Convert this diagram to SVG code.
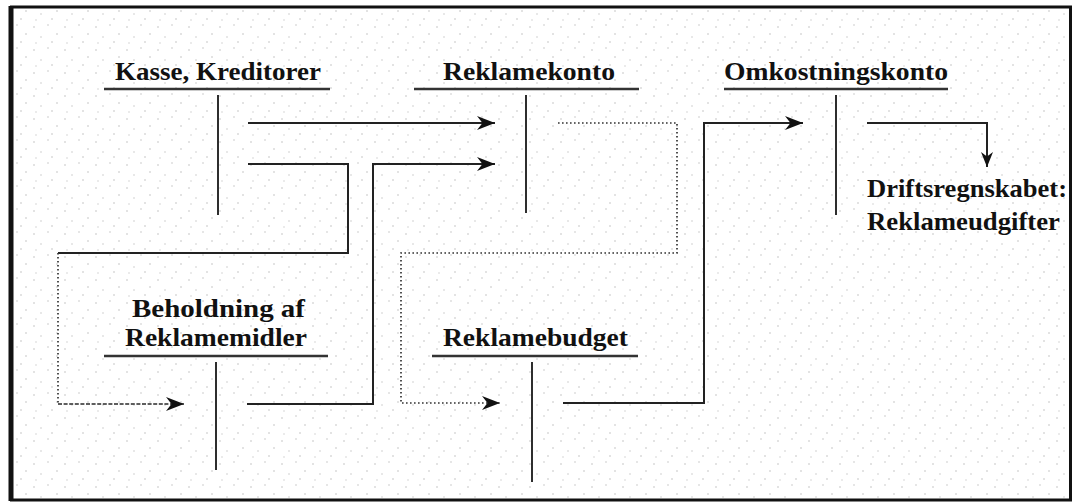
<svg xmlns="http://www.w3.org/2000/svg" width="1074" height="503" viewBox="0 0 1074 503">
  <style>
    .lbl { font-family: "Liberation Serif", "Times New Roman", serif; font-weight: bold; font-size: 25.5px; fill: #111; }
    .uline { stroke: #333; stroke-width: 2.6; fill: none; }
    .vline { stroke: #2e2e2e; stroke-width: 2; fill: none; }
    .conn { stroke: #222; stroke-width: 2; fill: none; }
    .dotted { stroke: #333; stroke-width: 1.7; stroke-dasharray: 1.6 2.4; fill: none; }
    .dashy { stroke: #2a2a2a; stroke-width: 1.7; stroke-dasharray: 4 1.6; fill: none; }
  </style>
  <defs>
    <pattern id="stipple" x="0" y="0" width="31" height="23" patternUnits="userSpaceOnUse">
      <circle cx="3" cy="4" r="0.75" fill="#b8b8b8"/>
      <circle cx="17" cy="2" r="0.75" fill="#c0c0c0"/>
      <circle cx="26" cy="11" r="0.75" fill="#b8b8b8"/>
      <circle cx="10" cy="14" r="0.75" fill="#c4c4c4"/>
      <circle cx="21" cy="19" r="0.75" fill="#b8b8b8"/>
      <circle cx="5" cy="20" r="0.7" fill="#c8c8c8"/>
    </pattern>
    <marker id="arrow" markerUnits="userSpaceOnUse" markerWidth="19" markerHeight="15" viewBox="0 0 19 15" refX="18" refY="7.5" orient="auto">
      <path d="M0,0.5 L18,7.5 L0,14.5 L5.5,7.5 Z" fill="#111"/>
    </marker>
    <marker id="arrowSmall" markerUnits="userSpaceOnUse" markerWidth="16" markerHeight="13" viewBox="0 0 16 13" refX="15" refY="6.5" orient="auto">
      <path d="M0,0.5 L15,6.5 L0,12.5 L4.5,6.5 Z" fill="#111"/>
    </marker>
  </defs>

  <rect x="0" y="0" width="1074" height="503" fill="#ffffff"/>
  <rect x="13" y="9" width="1056" height="489" fill="url(#stipple)"/>
  <rect x="11.5" y="7" width="1059" height="493" fill="none" stroke="#111" stroke-width="3"/>
  <line x1="11" y1="6" x2="11" y2="501" stroke="#111" stroke-width="5"/>

  <g id="connectors">
    <path class="conn" d="M248,123 H495" marker-end="url(#arrow)"/>
    <path class="conn" d="M248,164 H348 V253 H58"/>
    <path class="dotted" d="M58,253 V404"/>
    <path class="dashy" d="M58,404 H184" marker-end="url(#arrow)"/>
    <path class="conn" d="M247,404 H373 V164 H495" marker-end="url(#arrow)"/>
    <path class="dotted" d="M558,123 H677 V253 H401 V403 H500" marker-end="url(#arrow)"/>
    <path class="conn" d="M563,403 H704 V123 H803" marker-end="url(#arrow)"/>
    <path class="conn" d="M867,123 H987 V167" marker-end="url(#arrowSmall)"/>
  </g>

  <g id="kasse-kreditorer">
    <text class="lbl" x="115" y="80" textLength="206" lengthAdjust="spacingAndGlyphs">Kasse, Kreditorer</text>
    <line class="uline" x1="104" y1="89" x2="330" y2="89"/>
    <line class="vline" x1="218" y1="95" x2="218" y2="215"/>
  </g>

  <g id="reklamekonto">
    <text class="lbl" x="443" y="80" textLength="172" lengthAdjust="spacingAndGlyphs">Reklamekonto</text>
    <line class="uline" x1="414" y1="89" x2="639" y2="89"/>
    <line class="vline" x1="526" y1="95" x2="526" y2="213"/>
  </g>

  <g id="omkostningskonto">
    <text class="lbl" x="724" y="80" textLength="224" lengthAdjust="spacingAndGlyphs">Omkostningskonto</text>
    <line class="uline" x1="724" y1="89" x2="948" y2="89"/>
    <line class="vline" x1="836" y1="95" x2="836" y2="215"/>
  </g>

  <g id="beholdning">
    <text class="lbl" x="132" y="317" textLength="173" lengthAdjust="spacingAndGlyphs">Beholdning af</text>
    <text class="lbl" x="125" y="346" textLength="182" lengthAdjust="spacingAndGlyphs">Reklamemidler</text>
    <line class="uline" x1="104" y1="356" x2="328" y2="356"/>
    <line class="vline" x1="216" y1="362" x2="216" y2="470"/>
  </g>

  <g id="reklamebudget">
    <text class="lbl" x="443" y="346" textLength="185" lengthAdjust="spacingAndGlyphs">Reklamebudget</text>
    <line class="uline" x1="432" y1="356" x2="638" y2="356"/>
    <line class="vline" x1="532" y1="362" x2="532" y2="482"/>
  </g>

  <g id="driftsregnskabet">
    <text class="lbl" x="867" y="197" textLength="200" lengthAdjust="spacingAndGlyphs">Driftsregnskabet:</text>
    <text class="lbl" x="867" y="230" textLength="193" lengthAdjust="spacingAndGlyphs">Reklameudgifter</text>
  </g>
</svg>
